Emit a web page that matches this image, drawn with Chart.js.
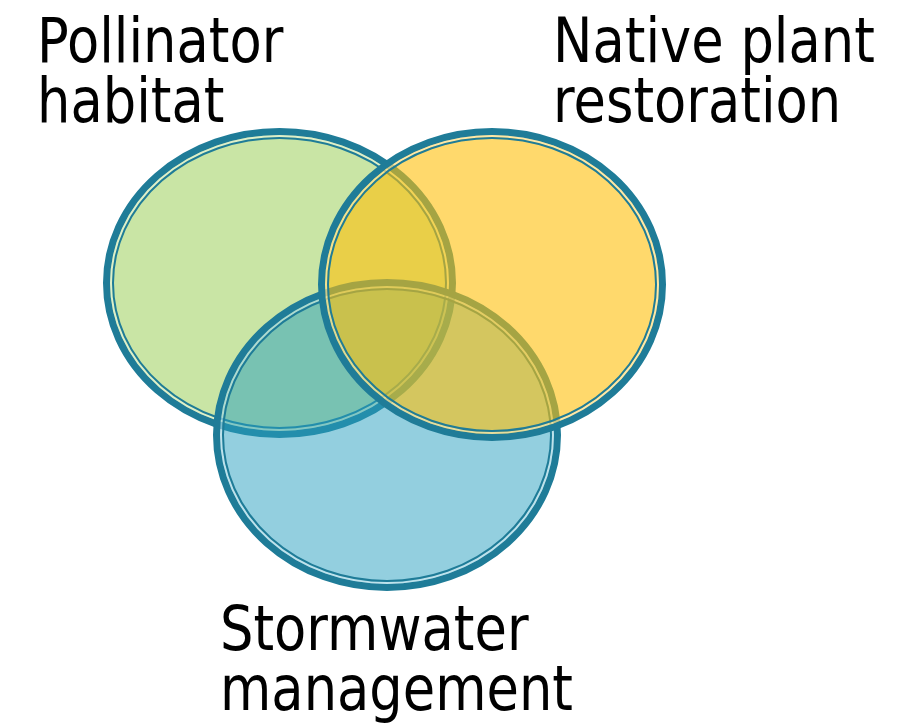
<!DOCTYPE html>
<html lang="en">
<head>
    <meta charset="UTF-8">
    <title>Pollinator / Native plant / Stormwater</title>
    <script src="https://cdn.jsdelivr.net/npm/chart.js"></script>
    <style>
        body { margin: 0; background: #fff; }
    </style>
</head>
<body>
<canvas id="venn" width="911" height="728"></canvas>

<script>
    // the three sets, drawn in this order (later ones sit on top)
    var setNames = [['Pollinator', 'habitat'], ['Stormwater', 'management'], ['Native plant', 'restoration']];
    var centerX = [279.5, 387, 492];
    var centerY = [283, 435, 284.5];
    var radiusX = [176.5, 174, 174];
    var radiusY = [155, 156, 156.5];
    var fillColors = ['rgba(201,229,165,1)', 'rgba(39,159,191,0.5)', 'rgba(255,192,10,0.6)'];

    // where each label block starts (left x, first baseline)
    var labelX = [37, 220, 553];
    var labelY = [62, 650, 62];

    var borderColor = '#1f7c98';

    // draws the ellipses through the chart scales
    var vennPlugin = {
        id: 'venn',
        afterDatasetsDraw: function (chart) {
            var ctx = chart.ctx;
            var xs = chart.scales.x, ys = chart.scales.y;
            ctx.save();
            for (var i = 0; i < centerX.length; i++) {
                var cx = xs.getPixelForValue(centerX[i]);
                var cy = ys.getPixelForValue(centerY[i]);
                var rx = Math.abs(xs.getPixelForValue(centerX[i] + radiusX[i]) - cx);
                var ry = Math.abs(ys.getPixelForValue(centerY[i] + radiusY[i]) - cy);

                ctx.beginPath();
                ctx.ellipse(cx, cy, rx - 1, ry - 1, 0, 0, Math.PI * 2);
                ctx.fillStyle = fillColors[i];
                ctx.fill();

                // thick outer band
                ctx.beginPath();
                ctx.ellipse(cx, cy, rx - 3.5, ry - 3.5, 0, 0, Math.PI * 2);
                ctx.lineWidth = 7;
                ctx.strokeStyle = borderColor;
                ctx.stroke();

                // pale line between the bands
                ctx.beginPath();
                ctx.ellipse(cx, cy, rx - 8, ry - 8, 0, 0, Math.PI * 2);
                ctx.lineWidth = 2;
                ctx.strokeStyle = 'rgba(255,255,255,0.4)';
                ctx.stroke();

                // thin inner line
                ctx.beginPath();
                ctx.ellipse(cx, cy, rx - 10, ry - 10, 0, 0, Math.PI * 2);
                ctx.lineWidth = 2;
                ctx.strokeStyle = borderColor;
                ctx.stroke();
            }

            // labels
            ctx.fillStyle = '#000';
            ctx.font = '62px "DejaVu Sans"';
            ctx.textBaseline = 'alphabetic';
            for (var j = 0; j < setNames.length; j++) {
                for (var k = 0; k < setNames[j].length; k++) {
                    ctx.save();
                    ctx.translate(labelX[j], labelY[j] + k * 60);
                    ctx.scale(0.85, 1);
                    ctx.fillText(setNames[j][k], 0, 0);
                    ctx.restore();
                }
            }
            ctx.restore();
        }
    };

    var ctx = document.getElementById('venn').getContext('2d');
    var chart = new Chart(ctx, {
        type: 'scatter',
        data: {
            datasets: [{
                data: centerX.map(function (x, i) { return { x: x, y: centerY[i] }; }),
                pointRadius: 0
            }]
        },
        options: {
            responsive: false,
            animation: false,
            layout: { padding: 0 },
            plugins: { legend: { display: false }, tooltip: { enabled: false } },
            scales: {
                x: { display: false, min: 0, max: 911 },
                y: { display: false, min: 0, max: 728, reverse: true }
            }
        },
        plugins: [vennPlugin]
    });
</script>
</body>
</html>
